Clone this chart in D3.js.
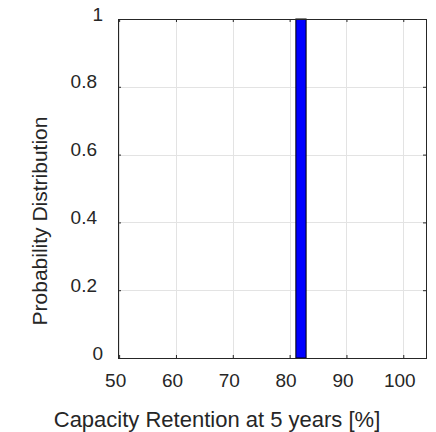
<!DOCTYPE html>
<html>
<head>
<meta charset="utf-8">
<script src="https://cdn.jsdelivr.net/npm/d3@7"></script>
<style>
  body { margin: 0; background: #fff; }
  text { font-family: "Liberation Sans", Arial, sans-serif; fill: #262626; }
</style>
</head>
<body>
<div id="root"></div>
<script>
// histogram bin(s): one bin holds all the probability
const binEdges = [[81.1, 82.9]];
const binValues = [1];
const xTicks = [50, 60, 70, 80, 90, 100];
const yTicks = [0, 0.2, 0.4, 0.6, 0.8, 1];
const xDomain = [49.8, 104];
const yDomain = [0, 1];

const W = 436, H = 432;
const margin = { top: 19, left: 118, right: 10, bottom: 74 };
const width = W - margin.left - margin.right;
const height = H - margin.top - margin.bottom;

const svg = d3.select('#root').append('svg')
  .attr('width', W)
  .attr('height', H);

const x = d3.scaleLinear().domain(xDomain).range([margin.left, margin.left + width]);
const y = d3.scaleLinear().domain(yDomain).range([margin.top + height, margin.top]);

// grid
const grid = svg.append('g').attr('stroke', '#e3e3e3').attr('stroke-width', 1);
grid.selectAll('.gx').data(xTicks).join('line')
  .attr('x1', d => Math.round(x(d)) + 0.5).attr('x2', d => Math.round(x(d)) + 0.5)
  .attr('y1', y(1)).attr('y2', y(0));
grid.selectAll('.gy').data(yTicks).join('line')
  .attr('y1', d => Math.round(y(d)) + 0.5).attr('y2', d => Math.round(y(d)) + 0.5)
  .attr('x1', x(xDomain[0])).attr('x2', x(xDomain[1]));

// bars
svg.append('g').selectAll('rect').data(binEdges).join('rect')
  .attr('x', d => x(d[0]))
  .attr('width', d => x(d[1]) - x(d[0]))
  .attr('y', (d, i) => y(binValues[i]))
  .attr('height', (d, i) => y(0) - y(binValues[i]))
  .attr('fill', '#0000ff')
  .attr('stroke', '#000')
  .attr('stroke-width', 1);

// axes (ticks inside, box on)
const tickLen = 3;
const axisBottom = d3.axisBottom(x).tickValues(xTicks).tickSizeInner(-tickLen).tickSizeOuter(0).tickPadding(17);
const axisLeft = d3.axisLeft(y).tickValues(yTicks).tickFormat(d => String(d))
  .tickSizeInner(-tickLen).tickSizeOuter(0).tickPadding(20);
const axisTop = d3.axisTop(x).tickValues(xTicks).tickSizeInner(-tickLen).tickSizeOuter(0).tickFormat('');
const axisRight = d3.axisRight(y).tickValues(yTicks).tickSizeInner(-tickLen).tickSizeOuter(0).tickFormat('');

function style(g) {
  g.select('.domain').remove();
  g.selectAll('line').attr('stroke', '#262626');
  g.selectAll('text').attr('font-size', 19).attr('fill', '#262626');
}

svg.append('g').attr('transform', `translate(0,${y(0)})`).call(axisBottom).call(style)
  .selectAll('text').attr('dx', -4).attr('dy', '0.71em').attr('y', 16);
svg.append('g').attr('transform', `translate(${x(xDomain[0])},0)`).call(axisLeft).call(style)
  .selectAll('text').attr('dy', '0.32em').attr('y', -5)
  .attr('x', d => (String(d).includes('.') ? -21 : -15));
svg.append('g').attr('transform', `translate(0,${y(1)})`).call(axisTop).call(style);
svg.append('g').attr('transform', `translate(${x(xDomain[1])},0)`).call(axisRight).call(style);

// frame
svg.append('rect')
  .attr('x', x(xDomain[0]) + 0.5).attr('y', y(1) + 0.5)
  .attr('width', x(xDomain[1]) - x(xDomain[0])).attr('height', y(0) - y(1))
  .attr('fill', 'none').attr('stroke', '#262626').attr('stroke-width', 1);

// labels
svg.append('text')
  .attr('x', 217).attr('y', 427)
  .attr('text-anchor', 'middle').attr('font-size', 22)
  .text('Capacity Retention at 5 years [%]');
svg.append('text')
  .attr('transform', 'translate(47,221) rotate(-90)')
  .attr('text-anchor', 'middle').attr('font-size', 21)
  .text('Probability Distribution');
</script>
</body>
</html>
